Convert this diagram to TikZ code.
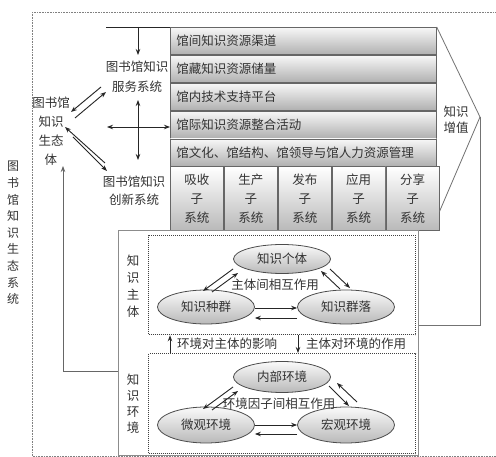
\documentclass[tikz,border=0pt]{standalone}
\usepackage{fontspec}
\setmainfont{Noto Sans CJK SC}
\usetikzlibrary{shapes.geometric,arrows.meta,calc}
\begin{document}
\begin{tikzpicture}[x=1pt,y=-1pt,
  txt/.style={font=\fontsize{12.5}{16}\selectfont, text=black!80, inner sep=0pt, align=center},
  rowbox/.style={draw=black!60, line width=0.7pt, top color=gray!6, bottom color=gray!62,
    minimum width=266pt, minimum height=27.2pt, anchor=north west, text width=254pt,
    align=left, inner xsep=6pt, inner ysep=0pt, font=\fontsize{12.5}{15}\selectfont, text=black!80},
  subbox/.style={draw=black!60, line width=0.7pt, top color=white, bottom color=gray!55,
    minimum width=53.2pt, minimum height=64pt, anchor=north west, inner sep=0pt,
    align=center, font=\fontsize{12.5}{19}\selectfont, text=black!80},
  elli/.style={ellipse, draw=black!70, line width=0.8pt, top color=gray!4, bottom color=gray!55,
    minimum width=97pt, minimum height=32pt, inner sep=0pt,
    font=\fontsize{12.5}{15}\selectfont, text=black!80},
  arr/.style={-{Stealth[length=6pt,width=4.5pt]}, line width=0.9pt, draw=black!85},
  dblarr/.style={{Stealth[length=6pt,width=4.5pt]}-{Stealth[length=6pt,width=4.5pt]}, line width=0.9pt, draw=black!85},
  grayline/.style={draw=black!55, line width=0.8pt},
  outerdot/.style={draw=black!50, line width=1pt, dash pattern=on 0.8pt off 0.8pt},
  inbox/.style={draw=black!75, line width=1.3pt, dash pattern=on 1pt off 1pt, anchor=north west, inner sep=0pt}
]
\useasboundingbox (0,0) rectangle (496,457);
\fill[white] (0,0) rectangle (496,457);

% outer dotted frame
\draw[outerdot] (497,13) -- (32,13) -- (32,456) -- (497,456);
\node[txt, font=\fontsize{12}{16.6}\selectfont] (sys) at (13,233) {图\\书\\馆\\知\\识\\生\\态\\系\\统};

% table rows
\node[rowbox] (r1) at (170,27) {馆间知识资源渠道};
\node[rowbox] (r2) at (r1.south west) {馆藏知识资源储量};
\node[rowbox] (r3) at (r2.south west) {馆内技术支持平台};
\node[rowbox] (r4) at (r3.south west) {馆际知识资源整合活动};
\node[rowbox] (r5) at (r4.south west) {馆文化、馆结构、馆领导与馆人力资源管理};
\node[subbox] (s1) at (r5.south west) {吸收\\子\\系统};
\node[subbox] (s2) at (s1.north east) {生产\\子\\系统};
\node[subbox] (s3) at (s2.north east) {发布\\子\\系统};
\node[subbox] (s4) at (s3.north east) {应用\\子\\系统};
\node[subbox] (s5) at (s4.north east) {分享\\子\\系统};

% chevron
\coordinate (apex) at (480,117);
\draw[grayline] (r1.north east) -- (apex) -- ($(s5.north east)+(0,45)$);
\node[txt] (gain) at (456,120) {知识\\增值};

% container of subject / environment
\node[draw=black!45, line width=0.8pt, minimum width=300pt, minimum height=225pt,
  anchor=north west, inner sep=0pt] (cont) at (118,230) {};
\coordinate (c325) at (0,325);
\draw[grayline] (apex) |- (cont.east |- c325);

% left part
\node[txt, font=\fontsize{12.5}{20}\selectfont] (serv) at (137,77) {图书馆知识\\服务系统};
\node[txt, font=\fontsize{12.5}{18}\selectfont] (innov) at (134,191) {图书馆知识\\创新系统};
\node[txt, font=\fontsize{12.5}{19}\selectfont] (eco) at (51,131) {图书馆\\知识\\生态\\体};

\coordinate (tl) at (106,27);
\coordinate (tm) at (138,27);
\draw[line width=0.9pt, black!85] (tl) -- (r1.north west);
\draw[arr] (tm) -- (138,55);

\coordinate (vt) at (138,100);
\coordinate (vb) at (138,160);
\coordinate (hl) at (107,127);
\coordinate (hr) at (170,127);
\draw[dblarr] (vt) -- (vb);
\draw[dblarr] (hl) -- (hr);

\coordinate (pa1) at (101,87);
\coordinate (pa2) at (71,112);
\coordinate (pb1) at (75,118);
\coordinate (pb2) at (106,92);
\draw[arr] (pa1) -- (pa2);
\draw[arr] (pb1) -- (pb2);
\coordinate (pc1) at (105,163);
\coordinate (pc2) at (65,127);
\coordinate (pd1) at (73,137);
\coordinate (pd2) at (107,171);
\draw[arr] (pc1) -- (pc2);
\draw[arr] (pd1) -- (pd2);

% feedback arrow to ecosystem
\coordinate (ecoin) at (63,166);
\coordinate (c371) at (0,371);
\draw[-{Stealth[length=6pt,width=4.5pt]}, draw=black!60, line width=0.8pt] (cont.west |- c371) -| (ecoin);

% subject box
\node[inbox, minimum width=267pt, minimum height=99pt] (subj) at (148,235) {};
\node[txt, font=\fontsize{12.5}{17}\selectfont] (subjlab) at (133,286) {知\\识\\主\\体};
\node[elli, minimum height=29pt] (ind) at (282,259) {知识个体};
\node[elli, minimum height=34pt] (pop) at (206,307) {知识种群};
\node[elli, minimum height=34pt] (com) at (346,307) {知识群落};
\node[txt] (subjint) at (275,285) {主体间相互作用};
\draw[arr] (233,269) -- (203,291);
\draw[arr] (212,292) -- (238,273);
\draw[arr] (340,289) -- (321,271);
\draw[arr] (330,269) -- (350,288);
\draw[arr] (pop.east |- 0,308) -- (com.west |- 0,308);
\draw[arr] (com.west |- 0,318) -- (pop.east |- 0,318);

% environment box
\node[inbox, minimum width=267pt, minimum height=100pt] (envi) at (148,353) {};
\node[txt, font=\fontsize{12.5}{16}\selectfont] (envlab) at (133,404) {知\\识\\环\\境};
\node[elli, minimum height=31pt] (inner) at (282,377) {内部环境};
\node[elli, minimum height=36pt] (micro) at (206,425) {微观环境};
\node[elli, minimum height=36pt] (macro) at (346,425) {宏观环境};
\node[txt] (envint) at (279,404) {环境因子间相互作用};
\draw[arr] (233,387) -- (203,409);
\draw[arr] (212,410) -- (238,391);
\draw[arr] (329,386) -- (349,406);
\draw[arr] (357,402) -- (337,383);
\draw[arr] (micro.east |- 0,425) -- (macro.west |- 0,425);
\draw[arr] (macro.west |- 0,434) -- (micro.east |- 0,434);

% between boxes
\coordinate (a1) at (170,0);
\coordinate (a2) at (298,0);
\draw[arr] (a1 |- envi.north) -- (a1 |- subj.south);
\draw[arr] (a2 |- subj.south) -- (a2 |- envi.north);
\node[txt, anchor=west] (lab1) at (177,344) {环境对主体的影响};
\node[txt, anchor=west] (lab2) at (306,344) {主体对环境的作用};
\end{tikzpicture}
\end{document}
